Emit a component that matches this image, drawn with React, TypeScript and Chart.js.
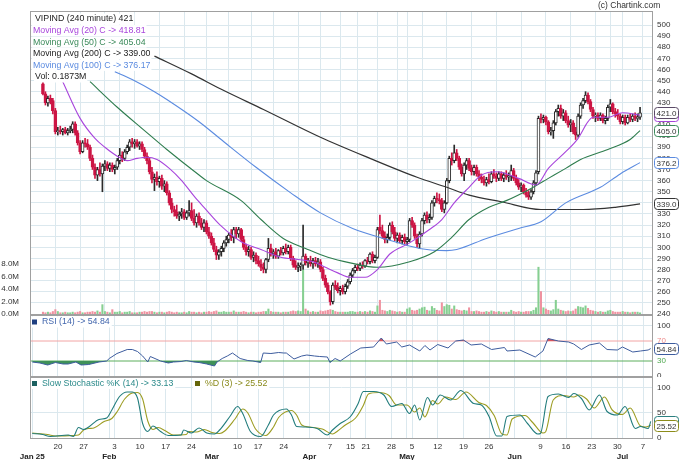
import { useEffect, useRef } from "react";
import { Chart, registerables } from "chart.js";

Chart.register(...registerables);

const FONT = "'Liberation Sans', Arial, Helvetica, sans-serif";
const GRID = "#dbe8ee";
const FRAME = "#a0a0a0";
const DOWN = "#cc1544";
const UP_LINE = "#2a2a2a";
const VOL_UP = "#86cf91";
const VOL_DN = "#ef92a0";
const C_MA20 = "#a845dc";
const C_MA50 = "#2f7d4e";
const C_MA100 = "#5b8be0";
const C_MA200 = "#333333";

// ---------- 240-minute bars, Jan 13 2025 .. Jul 8 2025 (two bars per session) ----------
const opens = [
  447,438,430,434,432,423,404,405,404,406,
  403,405,406,411,403,394,386,394,393,390,
  380,372,365,370,366,373,375,371,374,370,
  372,378,383,380,386,390,395,393,395,391,
  393,388,382,378,368,361,363,359,362,355,
  357,349,340,334,332,328,330,332,327,331,
  333,326,322,328,322,318,322,314,310,304,
  298,293,296,299,304,307,311,309,316,312,
  316,307,300,296,298,291,293,288,285,282,
  280,289,299,294,296,292,297,295,299,296,
  300,290,284,282,283,284,292,286,288,285,
  288,285,287,280,272,266,260,251,266,264,
  261,263,260,265,269,275,279,282,281,284,
  283,288,287,294,288,291,318,315,310,307,
  309,320,314,308,311,306,309,305,307,324,
  320,310,303,312,324,329,325,327,340,344,
  343,342,334,340,360,380,378,385,380,372,
  366,374,378,371,368,372,366,363,361,358,
  361,359,366,364,362,366,362,365,363,364,
  369,362,358,354,356,350,347,345,350,358,
  368,416,415,417,413,404,405,412,422,425,
  418,421,414,410,412,404,401,418,428,432,
  437,431,424,418,419,416,419,414,416,426,
  429,422,420,418,413,417,412,417,415,418,
  416,417,
];
const highs = [
  449,440,436,437,434,425,408,409,407,408,
  407,409,413,413,405,396,396,398,397,392,
  383,375,372,376,375,378,377,376,376,374,
  380,389,386,388,392,397,398,397,397,395,
  395,390,385,380,372,366,368,364,365,360,
  359,351,344,337,338,332,335,334,333,342,
  340,334,330,331,326,325,324,318,313,308,
  301,298,301,306,310,313,316,318,318,318,
  317,310,303,301,300,296,295,292,289,286,
  290,308,303,298,299,298,300,301,303,302,
  302,292,288,286,286,320,294,290,292,290,
  291,290,289,282,275,268,261,268,270,268,
  265,266,267,271,277,281,284,285,286,287,
  289,291,295,296,293,318,329,320,314,312,
  322,323,318,313,313,311,312,309,326,327,
  322,312,314,326,331,332,330,342,346,349,
  348,344,342,362,382,385,392,388,382,375,
  376,380,380,374,374,374,369,366,364,363,
  366,368,370,367,368,368,367,369,367,374,
  371,365,361,358,357,353,351,352,360,369,
  418,420,419,418,414,408,414,424,428,428,
  424,423,418,415,414,408,420,430,434,440,
  439,433,426,421,421,421,420,418,428,433,
  430,425,424,420,419,419,419,420,420,421,
  420,426,
];
const lows = [
  437,428,427,429,420,402,401,402,401,402,
  401,403,403,401,392,384,385,390,388,378,
  370,362,360,364,350,369,369,368,368,366,
  370,375,377,378,384,387,390,389,390,388,
  386,380,375,366,358,351,356,354,352,350,
  347,338,331,328,326,324,326,325,325,328,
  324,320,318,320,316,314,312,308,302,296,
  289,289,292,296,301,304,306,304,308,309,
  305,298,293,292,289,287,285,283,279,277,
  277,287,292,290,290,290,293,293,294,294,
  288,282,280,278,279,280,284,282,283,281,
  283,282,278,270,264,258,248,249,262,259,
  257,258,258,263,267,273,277,279,279,281,
  282,285,285,286,286,290,312,308,304,304,
  307,312,306,304,304,303,303,302,305,318,
  308,300,299,310,321,322,322,325,337,340,
  339,332,331,339,358,374,376,378,370,364,
  360,370,369,365,365,364,360,358,356,355,
  357,358,362,359,360,360,359,361,359,360,
  360,356,352,350,348,345,343,343,348,356,
  366,412,412,410,402,401,398,410,418,416,
  414,412,408,404,402,397,399,416,425,430,
  429,422,416,413,414,414,412,411,414,422,
  420,417,415,411,411,410,411,413,413,414,
  413,415,
];
const closes = [
  438,430,434,432,423,404,405,404,406,403,
  405,406,411,403,394,386,394,393,390,380,
  372,365,370,366,373,375,371,374,370,372,
  378,383,380,386,390,395,393,395,391,393,
  388,382,378,368,361,363,359,362,355,357,
  349,340,334,332,328,330,332,327,331,333,
  326,322,328,322,318,322,314,310,304,298,
  293,296,299,304,307,311,309,316,312,316,
  307,300,296,298,291,293,288,285,282,280,
  289,299,294,296,292,297,295,299,296,300,
  290,284,282,283,284,292,286,288,285,288,
  285,287,280,272,266,260,251,266,264,261,
  263,260,265,269,275,279,282,281,284,283,
  288,287,294,288,291,316,315,310,307,309,
  320,314,308,311,306,309,305,307,324,320,
  310,303,312,324,329,325,327,340,344,343,
  342,334,340,360,380,378,385,380,372,366,
  374,378,371,368,372,366,363,361,358,361,
  359,366,364,362,366,362,365,363,364,369,
  362,358,354,356,350,347,345,350,358,367,
  416,415,417,413,404,405,412,422,425,418,
  421,414,410,412,404,401,418,428,432,437,
  431,424,418,419,416,419,414,416,426,429,
  422,420,418,413,417,412,417,415,418,416,
  417,421,
];
// volume in millions
const volumesM = [
  0.3,0.2,0.3,0.2,0.4,0.7,0.4,0.2,0.2,0.3,
  0.2,0.2,0.3,0.2,0.3,0.4,0.2,0.2,0.3,0.3,
  0.4,0.3,0.5,0.3,1.5,0.4,0.3,0.2,0.7,0.3,
  0.3,0.4,0.2,0.3,0.3,0.4,0.2,0.2,0.2,0.3,
  0.3,0.4,0.3,0.4,0.4,0.3,0.2,0.3,0.3,0.2,
  0.3,0.4,0.3,0.2,0.3,0.2,0.2,0.3,0.2,0.4,
  0.3,0.3,0.2,0.3,0.2,0.3,0.3,0.4,0.3,0.4,
  0.5,0.3,0.3,0.4,0.3,0.3,0.3,0.5,0.3,0.3,
  0.3,0.4,0.3,0.2,0.3,0.3,0.2,0.3,0.3,0.4,
  0.4,0.8,0.4,0.3,0.3,0.3,0.2,0.3,0.3,0.3,
  0.4,0.5,0.4,0.5,0.4,7.0,0.8,0.5,0.3,0.4,
  0.3,0.3,0.5,0.4,0.5,0.6,0.7,0.6,0.4,0.3,
  0.3,0.3,0.3,0.3,0.4,0.4,0.3,0.3,0.4,0.3,
  0.4,0.3,0.5,0.4,0.3,1.3,2.2,0.6,0.5,0.4,
  0.6,0.5,0.4,0.3,0.4,0.3,0.3,0.8,1.0,0.6,
  0.5,0.6,0.8,1.0,1.1,0.6,0.5,1.2,0.9,0.6,
  0.5,1.8,1.2,1.5,1.4,0.8,1.3,0.7,0.6,0.5,
  0.6,0.5,1.0,0.4,0.4,0.5,0.4,0.3,0.3,0.4,
  0.3,0.5,0.4,0.3,0.4,0.3,0.3,0.3,0.3,0.6,
  0.4,0.3,0.4,0.3,0.3,0.4,0.4,0.4,0.6,1.0,
  7.5,3.6,1.0,0.8,0.6,0.5,0.7,2.2,0.8,0.6,
  0.5,0.4,0.5,0.4,0.5,0.8,1.2,1.1,1.0,1.3,
  0.9,0.6,0.5,0.4,0.3,0.4,0.3,0.3,0.5,0.6,
  0.4,0.3,0.3,0.3,0.4,0.3,0.3,0.2,0.3,0.3,
  0.3,0.19,
];

// ---------- indicator readings: [bar index, value] ----------
const ma20 = [[8,449],[15,416],[21,398],[25,390],[30,382],[34,378],[38,380],[42,381],[46,379],[51,371],[56,360],[61,346],[65,336],[72,319],[80,305],[88,298],[96,291],[103,289],[109,287],[114,282],[119,277],[124,273],[130,273],[135,280],[140,294],[148,304],[156,316],[161,325],[166,340],[172,354],[177,365],[183,368],[192,362],[199,356],[204,371],[211,386],[216,398],[220,413],[222,417],[228,417],[234,421],[241,418.81]];
const ma50 = [[19,449],[30,426],[41,405],[50,388],[63,365],[66,360],[80,342],[88,325],[97,308],[106,299],[115,291],[124,286],[135,282],[148,287],[158,296],[165,309],[172,325],[180,336],[187,342],[197,353],[204,362],[211,371],[217,379],[228,388],[237,397],[241,405.04]];
const ma100 = [[29,458],[36,451],[45,440],[50,433],[63,413],[73,395],[86,372],[100,349],[112,331],[125,317],[139,307],[152,299],[163,297],[167,298],[179,308],[192,317],[201,323],[211,340],[225,354],[233,366],[241,376.17]];
const ma200 = [[45,472],[60,456],[73,441],[89,424],[112,399],[132,380],[151,363],[163,354],[172,347],[185,341],[201,334],[218,334],[231,336],[241,339]];
const rsi14 = [[0,28],[3,26],[6,22],[9,27],[12,24],[14,24],[17,28],[19,22],[22,23],[26,28],[29,30],[30,35],[33,45],[37,53],[39,53],[41,49],[43,40],[45,28],[46,39],[50,30],[53,26],[55,28],[58,29],[60,31],[63,28],[65,27],[68,24],[71,20],[72,28],[74,35],[76,40],[78,46],[81,35],[84,31],[86,30],[89,27],[90,46],[93,45],[96,47],[98,46],[99,46],[102,34],[105,40],[107,42],[110,40],[112,39],[115,38],[116,27],[118,35],[120,30],[124,44],[128,56],[133,58],[136,76],[138,64],[142,68],[144,58],[147,62],[151,50],[153,61],[155,52],[158,63],[162,56],[165,70],[168,72],[171,62],[175,64],[179,53],[184,57],[185,50],[190,52],[196,38],[199,50],[201,75],[205,70],[209,68],[211,64],[214,53],[217,62],[221,66],[224,53],[228,52],[230,58],[234,48],[237,50],[240,52],[241,54.84]];
const stochK = [[0,9],[4,7],[7,3],[14,6],[16,3],[18,21],[20,17],[22,22],[26,37],[29,40],[31,56],[34,83],[37,92],[39,92],[41,80],[43,29],[45,13],[47,24],[50,13],[53,5],[58,6],[59,16],[62,10],[65,20],[68,10],[71,8],[73,16],[77,43],[80,63],[82,49],[85,13],[89,3],[92,26],[94,46],[99,58],[101,46],[103,23],[106,22],[111,19],[115,6],[117,16],[120,29],[124,43],[127,69],[129,93],[133,93],[137,86],[140,63],[144,69],[147,49],[149,66],[151,36],[154,81],[156,66],[159,86],[163,76],[167,95],[172,69],[175,66],[178,43],[181,4],[183,4],[185,43],[190,46],[193,29],[197,8],[198,9],[201,83],[205,88],[209,81],[211,89],[214,79],[217,56],[221,86],[224,53],[228,46],[231,63],[235,19],[237,23],[240,19],[241,33.13]];
const stochD = [[0,10],[6,7],[9,4],[16,5],[18,6],[20,16],[22,19],[24,20],[28,33],[31,39],[33,52],[36,78],[39,90],[41,91],[43,78],[45,34],[47,17],[49,21],[52,14],[55,6],[60,7],[61,13],[64,12],[67,17],[70,11],[73,9],[75,14],[79,38],[82,58],[84,50],[87,18],[91,5],[94,22],[96,41],[101,55],[103,46],[105,26],[108,22],[113,18],[117,8],[119,14],[122,26],[126,40],[129,65],[131,88],[135,91],[139,85],[142,66],[146,66],[149,52],[151,60],[153,42],[156,75],[158,68],[161,82],[165,77],[169,92],[174,71],[177,65],[180,45],[183,8],[185,6],[187,38],[192,45],[195,31],[199,10],[200,12],[203,76],[207,85],[211,82],[213,86],[216,78],[219,60],[223,82],[226,56],[230,47],[233,60],[237,24],[239,22],[241,25.52]];

// ---------- axis ticks ----------
const dayTickIdx = [10,20,32,42,52,62,80,88,98,116,124,130,140,148,158,168,178,198,208,218,228,238];
const dayTickLabels = ["20","27","3","10","17","24","10","17","24","7","15","21","28","5","12","19","26","9","16","23","30","7"];
const monthTickIdx = [0,30,70,108,146,188,230];
const monthTickLabels = ["Jan 25","Feb","Mar","Apr","May","Jun","Jul"];
const volTicks = [0, 2, 4, 6, 8];
const rsiTicks = [0, 30, 70, 100];
const stochTicks = [0, 50, 100];

const N = closes.length;
const gridIdx = Array.from(new Set([...monthTickIdx, ...dayTickIdx])).sort((a, b) => a - b);
const isUp = (i: number) => closes[i] >= opens[i];
const pts = (arr: number[][]) => arr.map(([x, y]) => ({ x, y }));

function gridX(): any {
  return {
    type: "linear",
    min: -0.5,
    max: N - 0.5,
    afterBuildTicks: (s: any) => { s.ticks = gridIdx.map((v) => ({ value: v })); },
    grid: { color: GRID, drawTicks: false },
    border: { display: false },
    ticks: { display: false },
    afterFit: (s: any) => { s.height = 0; s.paddingLeft = 0; s.paddingRight = 0; },
  };
}

const vFit = (w: number) => (s: any) => { s.width = w; s.paddingTop = 0; s.paddingBottom = 0; };

const framePlugin = {
  id: "frame",
  afterDraw(chart: any) {
    const { ctx, chartArea: a } = chart;
    ctx.save();
    ctx.strokeStyle = FRAME;
    ctx.lineWidth = 1;
    ctx.strokeRect(a.left - 0.5, a.top - 0.5, a.right - a.left + 1, a.bottom - a.top + 1);
    ctx.restore();
  },
};

function drawBox(ctx: any, x: number, yc: number, text: string, color: string) {
  const w = 24, h = 11;
  const top = Math.round(yc - h / 2) + 0.5;
  ctx.save();
  ctx.beginPath();
  ctx.roundRect(x + 0.5, top, w, h, 3);
  ctx.fillStyle = "#fff";
  ctx.fill();
  ctx.lineWidth = 1;
  ctx.strokeStyle = color;
  ctx.stroke();
  ctx.fillStyle = "#333";
  ctx.font = `8px ${FONT}`;
  ctx.textAlign = "center";
  ctx.textBaseline = "middle";
  ctx.fillText(text, x + 0.5 + w / 2, top + h / 2 + 0.5);
  ctx.restore();
}

function boxesPlugin(axisId: string, boxes: { v: number; t: string; c: string }[]) {
  return {
    id: "boxes_" + axisId,
    afterDraw(chart: any) {
      const s = chart.scales[axisId];
      boxes.forEach((b) => drawBox(chart.ctx, chart.chartArea.right + 2, s.getPixelForValue(b.v), b.t, b.c));
    },
  };
}

const mainLegendRows = [
  { t: "VIPIND (240 minute) 421", c: "#222", x: 35 },
  { t: "Moving Avg (20) C -> 418.81", c: C_MA20, x: 33 },
  { t: "Moving Avg (50) C -> 405.04", c: "#3a8a5a", x: 33 },
  { t: "Moving Avg (200) C -> 339.00", c: "#222", x: 33 },
  { t: "Moving Avg (100) C -> 376.17", c: C_MA100, x: 33 },
  { t: "Vol: 0.1873M", c: "#222", x: 35 },
];

const mainLegendPlugin = {
  id: "mainLegend",
  afterDatasetsDraw(chart: any) {
    const ctx = chart.ctx;
    ctx.save();
    ctx.font = `8.8px ${FONT}`;
    ctx.textBaseline = "middle";
    ctx.textAlign = "left";
    mainLegendRows.forEach((r, k) => {
      const y = 19 + k * 11.6;
      const w = ctx.measureText(r.t).width;
      ctx.fillStyle = "#fff";
      ctx.fillRect(r.x - 1, y - 5.5, w + 2, 11);
      ctx.fillStyle = r.c;
      ctx.fillText(r.t, r.x, y);
    });
    ctx.fillStyle = "#333";
    ctx.font = `8.5px ${FONT}`;
    ctx.fillText("(c) Chartink.com", 598, 5.5);
    ctx.restore();
  },
};

function panelLegend(items: { t: string; c: string; sq: string; x: number }[], dy: number) {
  return {
    id: "panelLegend",
    afterDatasetsDraw(chart: any) {
      const ctx = chart.ctx;
      const y = chart.chartArea.top + dy;
      ctx.save();
      ctx.font = `8.8px ${FONT}`;
      ctx.textBaseline = "middle";
      items.forEach((it) => {
        const w = ctx.measureText(it.t).width;
        ctx.fillStyle = "#fff";
        ctx.fillRect(it.x - 2, y - 5.5, w + 14, 11);
        ctx.fillStyle = it.sq;
        ctx.fillRect(it.x, y - 2.5, 5, 5);
        ctx.fillStyle = it.c;
        ctx.fillText(it.t, it.x + 10, y);
      });
      ctx.restore();
    },
  };
}

const tickFont = { family: FONT, size: 8 };

function mainConfig(): any {
  return {
    type: "bar",
    data: {
      datasets: [
        { type: "line", data: pts(ma20), borderColor: C_MA20, borderWidth: 1.1, pointRadius: 0, cubicInterpolationMode: "monotone", yAxisID: "y", order: 1 },
        { type: "line", data: pts(ma50), borderColor: C_MA50, borderWidth: 1.1, pointRadius: 0, cubicInterpolationMode: "monotone", yAxisID: "y", order: 2 },
        { type: "line", data: pts(ma100), borderColor: C_MA100, borderWidth: 1.1, pointRadius: 0, cubicInterpolationMode: "monotone", yAxisID: "y", order: 2 },
        { type: "line", data: pts(ma200), borderColor: C_MA200, borderWidth: 1.2, pointRadius: 0, cubicInterpolationMode: "monotone", yAxisID: "y", order: 2 },
        {
          type: "bar",
          data: opens.map((o, i) => ({ x: i, y: [o, closes[i]] })),
          backgroundColor: (c: any) => (isUp(c.dataIndex) ? "#ffffff" : DOWN),
          borderColor: (c: any) => (isUp(c.dataIndex) ? UP_LINE : DOWN),
          borderWidth: 1,
          borderSkipped: false,
          barThickness: 3,
          grouped: false,
          yAxisID: "y",
          order: 4,
        },
        {
          type: "bar",
          data: lows.map((l, i) => ({ x: i, y: [l, highs[i]] })),
          backgroundColor: (c: any) => (isUp(c.dataIndex) ? UP_LINE : DOWN),
          barThickness: 1,
          grouped: false,
          yAxisID: "y",
          order: 5,
        },
        {
          type: "bar",
          data: volumesM.map((v, i) => ({ x: i, y: v })),
          backgroundColor: (c: any) => (isUp(c.dataIndex) ? VOL_UP : VOL_DN),
          barThickness: 1.4,
          grouped: false,
          yAxisID: "yv",
          order: 6,
        },
      ],
    },
    options: {
      animation: false,
      responsive: false,
      layout: { padding: { top: 12, bottom: 2, left: 0, right: 0 } },
      plugins: { legend: { display: false }, tooltip: { enabled: false } },
      scales: {
        x: gridX(),
        y: {
          type: "linear",
          position: "right",
          min: 240,
          max: 511.7,
          afterBuildTicks: (s: any) => { s.ticks = s.ticks.filter((t: any) => t.value % 10 === 0); },
          ticks: { stepSize: 10, autoSkip: false, font: tickFont, color: "#333", padding: 5, callback: (v: number) => (v <= 500 ? String(v) : "") },
          grid: { color: GRID, drawTicks: false },
          border: { display: false },
          afterFit: vFit(28),
        },
        yv: {
          type: "linear",
          position: "left",
          min: 0,
          max: 48.4,
          afterBuildTicks: (s: any) => { s.ticks = volTicks.map((v) => ({ value: v })); },
          ticks: { autoSkip: false, font: tickFont, color: "#333", padding: 4, callback: (v: number) => v.toFixed(1) + "M" },
          grid: { display: false },
          border: { display: false },
          afterFit: vFit(31),
        },
      },
    },
    plugins: [
      framePlugin,
      mainLegendPlugin,
      boxesPlugin("y", [
        { v: 339.0, t: "339.0", c: "#333" },
        { v: 376.17, t: "376.2", c: C_MA100 },
        { v: 405.04, t: "405.0", c: "#3a8a5a" },
        { v: 418.81, t: "418.8", c: C_MA20 },
        { v: 421.0, t: "421.0", c: "#5a4a66" },
      ]),
    ],
  };
}

function rsiConfig(): any {
  return {
    type: "line",
    data: {
      datasets: [
        { data: [{ x: -0.5, y: 70 }, { x: N - 0.5, y: 70 }], borderColor: "#f2a4a4", borderWidth: 1, pointRadius: 0, order: 5 },
        { data: [{ x: -0.5, y: 30 }, { x: N - 0.5, y: 30 }], borderColor: "#5cae5c", borderWidth: 1, pointRadius: 0, order: 5 },
        { data: pts(rsi14), borderColor: "rgba(0,0,0,0)", borderWidth: 0, pointRadius: 0, fill: { target: { value: 70 }, above: "#d9545c", below: "rgba(0,0,0,0)" }, order: 3 },
        { data: pts(rsi14), borderColor: "#3d5c9e", borderWidth: 1, pointRadius: 0, tension: 0, fill: { target: { value: 30 }, above: "rgba(0,0,0,0)", below: "#3f9158" }, order: 1 },
      ],
    },
    options: {
      animation: false,
      responsive: false,
      layout: { padding: { top: 1, bottom: 1, left: 31, right: 0 } },
      plugins: { legend: { display: false }, tooltip: { enabled: false } },
      scales: {
        x: gridX(),
        y: {
          type: "linear",
          position: "right",
          min: 0,
          max: 120,
          afterBuildTicks: (s: any) => { s.ticks = rsiTicks.map((v) => ({ value: v })); },
          ticks: {
            autoSkip: false,
            font: tickFont,
            padding: 5,
            color: (c: any) => (c.tick && c.tick.value === 70 ? "#ee8c8c" : c.tick && c.tick.value === 30 ? "#4fa84f" : "#333"),
          },
          grid: { color: (c: any) => (c.tick && c.tick.value === 100 ? GRID : "rgba(0,0,0,0)"), drawTicks: false },
          border: { display: false },
          afterFit: vFit(28),
        },
      },
    },
    plugins: [
      framePlugin,
      panelLegend([{ t: "RSI (14) -> 54.84", c: "#4266ad", sq: "#1f3f80", x: 32 }], 6),
      boxesPlugin("y", [{ v: 54.84, t: "54.84", c: "#3d5c9e" }]),
    ],
  };
}

function stochConfig(): any {
  return {
    type: "line",
    data: {
      datasets: [
        { data: pts(stochD), borderColor: "#9c9c22", borderWidth: 1.1, pointRadius: 0, cubicInterpolationMode: "monotone", order: 2 },
        { data: pts(stochK), borderColor: "#217c7c", borderWidth: 1.1, pointRadius: 0, cubicInterpolationMode: "monotone", order: 1 },
      ],
    },
    options: {
      animation: false,
      responsive: false,
      layout: { padding: { top: 1, bottom: 0, left: 31, right: 0 } },
      plugins: { legend: { display: false }, tooltip: { enabled: false } },
      scales: {
        x: {
          type: "linear",
          position: "bottom",
          weight: 0,
          min: -0.5,
          max: N - 0.5,
          afterBuildTicks: (s: any) => { s.ticks = gridIdx.map((v) => ({ value: v })); },
          grid: { color: GRID, drawTicks: false },
          border: { display: false },
          ticks: {
            autoSkip: false,
            maxRotation: 0,
            font: tickFont,
            color: "#333",
            padding: 4,
            callback: (v: number) => {
              const k = dayTickIdx.indexOf(v);
              return k >= 0 ? dayTickLabels[k] : "";
            },
          },
          afterFit: (s: any) => { s.height = 11; s.paddingLeft = 0; s.paddingRight = 0; },
        },
        x2: {
          type: "linear",
          axis: "x",
          position: "bottom",
          weight: 1,
          min: -0.5,
          max: N - 0.5,
          afterBuildTicks: (s: any) => { s.ticks = monthTickIdx.map((v) => ({ value: v })); },
          grid: { display: false, drawTicks: false },
          border: { display: false },
          ticks: {
            autoSkip: false,
            maxRotation: 0,
            font: { family: FONT, size: 8, weight: "bold" },
            color: "#222",
            padding: 3,
            callback: (v: number) => {
              const k = monthTickIdx.indexOf(v);
              return k >= 0 ? monthTickLabels[k] : "";
            },
          },
          afterFit: (s: any) => { s.height = 11; s.paddingLeft = 0; s.paddingRight = 0; },
        },
        y: {
          type: "linear",
          position: "right",
          min: 0,
          max: 120,
          afterBuildTicks: (s: any) => { s.ticks = stochTicks.map((v) => ({ value: v })); },
          ticks: { autoSkip: false, font: tickFont, color: "#333", padding: 5 },
          grid: { color: (c: any) => (c.tick && c.tick.value > 0 ? GRID : "rgba(0,0,0,0)"), drawTicks: false },
          border: { display: false },
          afterFit: vFit(28),
        },
      },
    },
    plugins: [
      framePlugin,
      panelLegend(
        [
          { t: "Slow Stochastic %K (14) -> 33.13", c: "#2b8a8a", sq: "#1b5f5f", x: 32 },
          { t: "%D (3) -> 25.52", c: "#8a8a1c", sq: "#66660a", x: 195 },
        ],
        5.5
      ),
      boxesPlugin("y", [
        { v: 33.13, t: "33.13", c: "#2b8080" },
        { v: 25.52, t: "25.52", c: "#8c8c1a" },
      ]),
    ],
  };
}

export default function App() {
  const r1 = useRef<HTMLCanvasElement>(null);
  const r2 = useRef<HTMLCanvasElement>(null);
  const r3 = useRef<HTMLCanvasElement>(null);

  useEffect(() => {
    const charts = [
      new Chart(r1.current as HTMLCanvasElement, mainConfig()),
      new Chart(r2.current as HTMLCanvasElement, rsiConfig()),
      new Chart(r3.current as HTMLCanvasElement, stochConfig()),
    ];
    return () => charts.forEach((c) => c.destroy());
  }, []);

  return (
    <div style={{ position: "fixed", left: 0, top: 0, width: 680, height: 460, background: "#fff", overflow: "hidden" }}>
      <canvas ref={r1} width={680} height={316} style={{ position: "absolute", left: 0, top: 0, width: 680, height: 316 }} />
      <canvas ref={r2} width={680} height={62} style={{ position: "absolute", left: 0, top: 315, width: 680, height: 62 }} />
      <canvas ref={r3} width={680} height={83} style={{ position: "absolute", left: 0, top: 377, width: 680, height: 83 }} />
    </div>
  );
}
